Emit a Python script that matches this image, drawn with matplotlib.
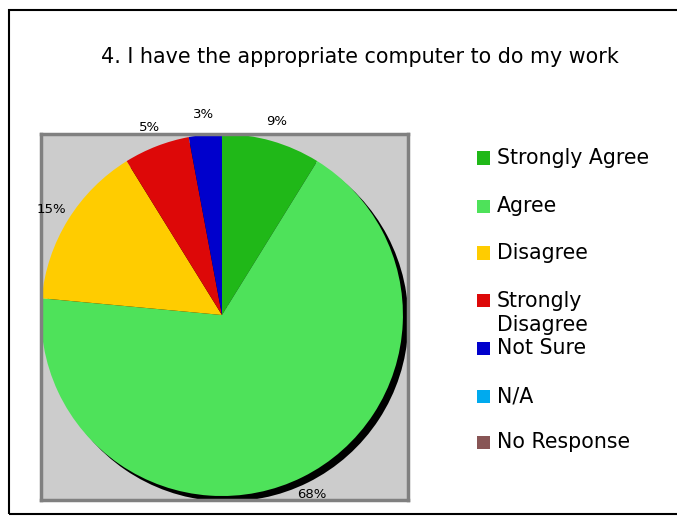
import matplotlib.pyplot as plt
from matplotlib.patches import Rectangle

plt.rcParams['font.family'] = ['DejaVu Sans']

# data
categories = ['Strongly Agree', 'Agree', 'Disagree', 'Strongly Disagree',
              'Not Sure', 'N/A', 'No Response']
legend_text = ['Strongly Agree', 'Agree', 'Disagree', 'Strongly\nDisagree',
               'Not Sure', 'N/A', 'No Response']
counts = [3, 23, 5, 2, 1, 0, 0]
pct_labels = ['9%', '68%', '15%', '5%', '3%', '', '']
colors = ['#20b818', '#4ee25a', '#ffcc00', '#dd0808', '#0000cc', '#00aaee', '#885555']

fig = plt.figure(figsize=(6.77, 5.16), dpi=100)
W, H = 677, 516

# outer frame
fig.patches.append(Rectangle((9 / W, 1 - 514 / H), 1.0, (514 - 10) / H,
                             transform=fig.transFigure, fill=False,
                             edgecolor='black', linewidth=1.5))

fig.text(360 / W, 1 - 57 / H, '4. I have the appropriate computer to do my work',
         ha='center', va='center', fontsize=14.9)

# plot area
ax = fig.add_axes([41 / W, 1 - 500 / H, 367 / W, 366 / H])
ax.set_facecolor('#cccccc')
for s in ax.spines.values():
    s.set_color('#808080')
    s.set_linewidth(2.5)

vals = [c for c in counts if c > 0]
cols = [colors[i] for i, c in enumerate(counts) if c > 0]
labs = [pct_labels[i] for i, c in enumerate(counts) if c > 0]

# shadow
ax.pie(vals, colors=['black'] * len(vals), startangle=90, counterclock=False,
       center=(0.03, -0.03), radius=1, frame=True)
wedges, texts = ax.pie(vals, colors=cols, labels=labs, startangle=90,
                       counterclock=False, labeldistance=1.11, radius=1,
                       frame=True, textprops={'fontsize': 9.5})
for t in texts:
    t.set_ha('center')
    t.set_va('center')
ax.set_xlim(-1.0, 1.028)
ax.set_ylim(-1.022, 1.0)
ax.set_aspect('auto')
ax.set_xticks([])
ax.set_yticks([])

# legend
rows_y = [158, 206, 253, 300, 348, 396, 442]
for name, c, y in zip(legend_text, colors, rows_y):
    fig.patches.append(Rectangle((477 / W, 1 - (y + 6.5) / H), 13 / W, 13 / H,
                                 transform=fig.transFigure, facecolor=c,
                                 edgecolor='none'))
    ty = y + 13 if '\n' in name else y
    fig.text(497 / W, 1 - ty / H, name, ha='left', va='center',
             fontsize=14.8, linespacing=1.25)

fig.savefig('out.png', dpi=100)
